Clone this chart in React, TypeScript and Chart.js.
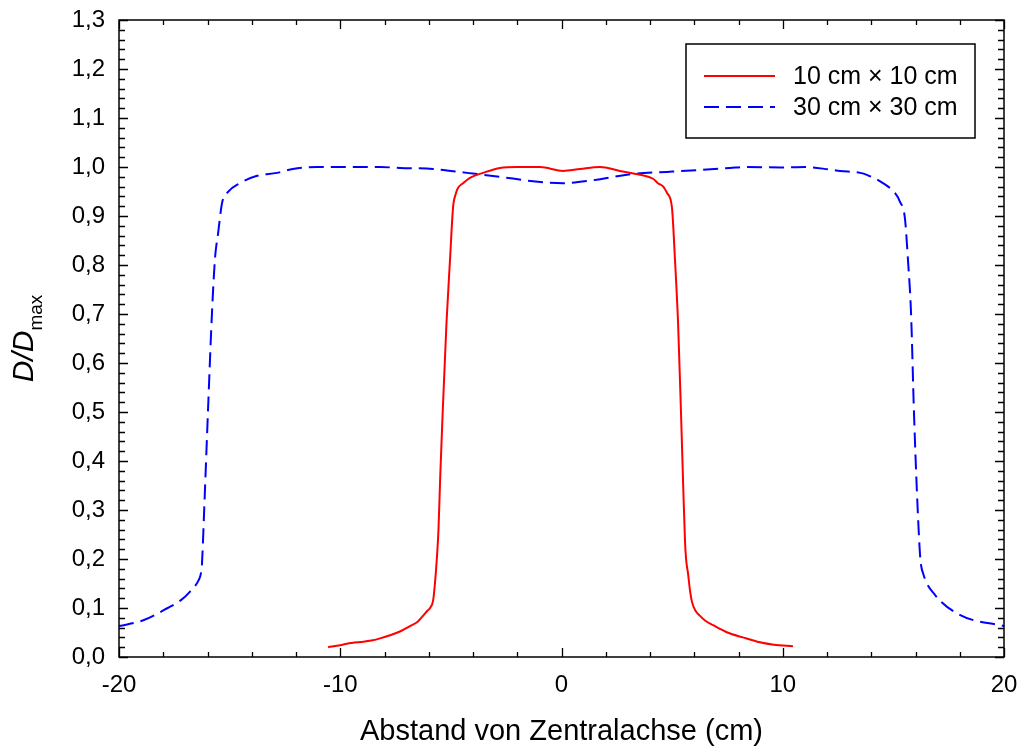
import React, { useEffect, useRef } from "react";
import { Chart, registerables } from "chart.js";

Chart.register(...registerables);

// Lateral dose profiles, relative dose D/Dmax over distance from the central axis
const field10X: number[] = [
  -10.55, -10.0, -9.7, -8.66, -8.2, -7.3, -6.85, -6.5, -6.26, -6.05, -5.94, -5.8, -5.72, -5.63, -5.56,
  -5.48, -5.37, -5.2, -5.04, -4.9, -4.78, -4.68, -4.45, -4.14, -3.55, -2.78, -2.01, -0.97, 0.07, 0.84,
  1.74, 2.64, 3.55, 4.14, 4.36, 4.6, 4.77, 4.99, 5.13, 5.27, 5.4, 5.5, 5.58, 5.63, 5.72, 5.81, 5.9,
  6.05, 6.26, 6.5, 6.85, 7.5, 8.2, 8.97, 9.6, 10.46,
];
const field10Y: number[] = [
  0.02, 0.024, 0.027, 0.033, 0.038, 0.052, 0.063, 0.072, 0.084, 0.095, 0.1, 0.116, 0.15, 0.204, 0.26,
  0.37, 0.5, 0.68, 0.81, 0.918, 0.945, 0.957, 0.967, 0.978, 0.988, 0.998, 1.0, 1.0, 0.992, 0.996,
  1.0, 0.992, 0.984, 0.976, 0.967, 0.96, 0.947, 0.918, 0.81, 0.68, 0.5, 0.35, 0.239, 0.2, 0.17, 0.135, 0.112,
  0.095, 0.084, 0.074, 0.065, 0.05, 0.04, 0.03, 0.025, 0.022,
];

const field30X: number[] = [
  -20, -18.9, -17.8, -17.2, -16.8, -16.4, -16.3, -16.25, -16.15, -15.98, -15.8, -15.66, -15.52, -15.34,
  -15.07, -14.53, -13.76, -12.86, -12.14, -11.05, -10, -9, -8.2, -7.3, -5.8, -4.27, -2.78, -1.29, 0.07,
  1.42, 3.23, 4.77, 6.26, 7.62, 8.4, 9.9, 11.0, 12.1, 12.59, 13.5, 13.8, 14.53, 15.07, 15.3, 15.52,
  15.66, 15.8, 15.93, 16.1, 16.22, 16.35, 16.88, 18.0, 20,
];
const field30Y: number[] = [
  0.063, 0.075, 0.1, 0.116, 0.133, 0.157, 0.17, 0.19, 0.3, 0.5, 0.7, 0.814, 0.865, 0.927,
  0.949, 0.967, 0.982, 0.988, 0.996, 1.0, 1.0, 1.0, 1.0, 0.998, 0.996, 0.988, 0.98, 0.971, 0.967,
  0.973, 0.986, 0.99, 0.994, 0.998, 1.0, 0.999, 1.0, 0.995, 0.992, 0.988, 0.984, 0.967, 0.947, 0.929, 0.896,
  0.81, 0.7, 0.5, 0.3, 0.2, 0.17, 0.127, 0.086, 0.063,
];

const seriesLabels: string[] = ["10 cm \u00d7 10 cm", "30 cm \u00d7 30 cm"];
const xTickValues: number[] = [-20, -10, 0, 10, 20];
const yTickValues: number[] = [0, 0.1, 0.2, 0.3, 0.4, 0.5, 0.6, 0.7, 0.8, 0.9, 1.0, 1.1, 1.2, 1.3];
const xTitle = "Abstand von Zentralachse (cm)";

const FONT = "'Liberation Sans', Arial, Helvetica, sans-serif";
const RED = "#ff0000";
const BLUE = "#0000ff";
const DASH = [15, 7];

const toPoints = (xs: number[], ys: number[]) => xs.map((x, i) => ({ x, y: ys[i] }));

// Keep label overhang from shifting the plot area; the layout padding fixes it instead
const noOverhang = (scale: any) => {
  scale.paddingLeft = 0;
  scale.paddingRight = 0;
  scale.paddingTop = 0;
  scale.paddingBottom = 0;
};

// Frame, inward ticks on all four sides, y-axis title with subscript, and the boxed legend
const decorations = {
  id: "decorations",
  afterDraw(chart: any) {
    const { ctx, chartArea } = chart;
    const { left, right, top, bottom } = chartArea;
    const xs = chart.scales.x;
    const ys = chart.scales.y;
    ctx.save();
    ctx.strokeStyle = "#000";
    ctx.lineWidth = 1.5;
    ctx.strokeRect(left, top, right - left, bottom - top);

    ctx.lineWidth = 1.3;
    ctx.beginPath();
    for (let v = -20; v <= 20; v += 2) {
      const px = Math.round(xs.getPixelForValue(v)) + 0.5;
      const len = v % 10 === 0 ? 9 : 5;
      ctx.moveTo(px, bottom);
      ctx.lineTo(px, bottom - len);
      ctx.moveTo(px, top);
      ctx.lineTo(px, top + len);
    }
    for (let i = 0; i <= 65; i++) {
      const py = Math.round(ys.getPixelForValue(i * 0.02)) + 0.5;
      const len = i % 5 === 0 ? 9 : 6;
      ctx.moveTo(left, py);
      ctx.lineTo(left + len, py);
      ctx.moveTo(right, py);
      ctx.lineTo(right - len, py);
    }
    ctx.stroke();

    // y-axis title: D/D with subscript "max"
    const midY = (top + bottom) / 2;
    ctx.fillStyle = "#000";
    ctx.font = `italic 30px ${FONT}`;
    const mainW = ctx.measureText("D/D").width;
    ctx.font = `19px ${FONT}`;
    const subW = ctx.measureText("max").width;
    const total = mainW + subW;
    ctx.translate(33, midY + total / 2);
    ctx.rotate(-Math.PI / 2);
    ctx.textBaseline = "alphabetic";
    ctx.textAlign = "left";
    ctx.font = `italic 30px ${FONT}`;
    ctx.fillText("D/D", 0, 0);
    ctx.font = `19px ${FONT}`;
    ctx.fillText("max", mainW, 9);
    ctx.setTransform(1, 0, 0, 1, 0, 0);

    // legend
    const bx = right - 318;
    const by = top + 24;
    const bw = 289;
    const bh = 94;
    ctx.fillStyle = "#fff";
    ctx.fillRect(bx, by, bw, bh);
    ctx.strokeStyle = "#000";
    ctx.lineWidth = 1.5;
    ctx.strokeRect(bx, by, bw, bh);
    const rows = [
      { label: seriesLabels[0], color: RED, dash: [] as number[], y: by + 32 },
      { label: seriesLabels[1], color: BLUE, dash: DASH, y: by + 63 },
    ];
    ctx.font = `25px ${FONT}`;
    ctx.textBaseline = "middle";
    rows.forEach((r) => {
      ctx.strokeStyle = r.color;
      ctx.lineWidth = 2;
      ctx.setLineDash(r.dash);
      ctx.beginPath();
      ctx.moveTo(bx + 18, r.y);
      ctx.lineTo(bx + 89, r.y);
      ctx.stroke();
      ctx.setLineDash([]);
      ctx.fillStyle = "#000";
      ctx.fillText(r.label, bx + 107, r.y + 1);
    });
    ctx.restore();
  },
};

export default function App() {
  const canvasRef = useRef<HTMLCanvasElement | null>(null);

  useEffect(() => {
    const canvas = canvasRef.current;
    if (!canvas) return;
    const chart = new Chart(canvas, {
      type: "line",
      data: {
        datasets: [
          {
            label: seriesLabels[0],
            data: toPoints(field10X, field10Y),
            borderColor: RED,
            borderWidth: 2,
            pointRadius: 0,
            cubicInterpolationMode: "monotone",
            fill: false,
          },
          {
            label: seriesLabels[1],
            data: toPoints(field30X, field30Y),
            borderColor: BLUE,
            borderWidth: 2,
            borderDash: DASH,
            pointRadius: 0,
            cubicInterpolationMode: "monotone",
            fill: false,
          },
        ],
      },
      options: {
        responsive: false,
        animation: false,
        devicePixelRatio: 1,
        layout: { padding: { left: 0, right: 17, top: 20, bottom: 0 } },
        plugins: {
          legend: { display: false },
          tooltip: { enabled: false },
        },
        scales: {
          x: {
            type: "linear",
            min: -20,
            max: 20,
            grid: { display: false },
            border: { display: false },
            afterBuildTicks: (scale: any) => {
              scale.ticks = xTickValues.map((value) => ({ value }));
            },
            afterFit: (scale: any) => {
              scale.height = 92;
              noOverhang(scale);
            },
            ticks: {
              autoSkip: false,
              maxRotation: 0,
              padding: 6,
              color: "#000",
              font: { family: FONT, size: 24 },
              callback: (v: any) => String(v),
            },
            title: {
              display: true,
              text: xTitle,
              color: "#000",
              font: { family: FONT, size: 29 },
              padding: { top: 0, bottom: 0 },
            },
          },
          y: {
            type: "linear",
            min: 0,
            max: 1.3,
            grid: { display: false },
            border: { display: false },
            afterBuildTicks: (scale: any) => {
              scale.ticks = yTickValues.map((value) => ({ value }));
            },
            afterFit: (scale: any) => {
              scale.width = 119;
              noOverhang(scale);
            },
            ticks: {
              autoSkip: false,
              padding: 6,
              color: "#000",
              font: { family: FONT, size: 24 },
              callback: (v: any) => Number(v).toFixed(1).replace(".", ","),
            },
          },
        },
      },
      plugins: [decorations],
    });
    return () => chart.destroy();
  }, []);

  return (
    <div style={{ position: "absolute", left: 0, top: 0, width: 1021, height: 749, background: "#fff" }}>
      <canvas ref={canvasRef} width={1021} height={749} />
    </div>
  );
}
